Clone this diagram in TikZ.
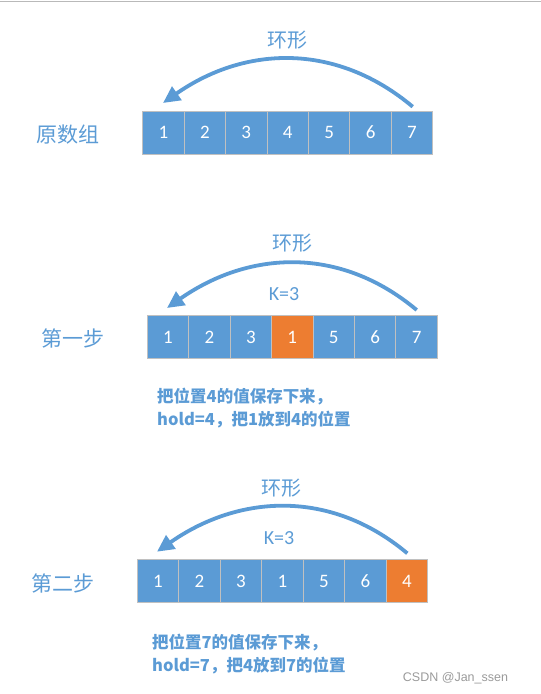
\documentclass[tikz,border=0pt]{standalone}
\usepackage{fontspec}
\setmainfont{Carlito}
\newfontfamily\cjk{Noto Sans CJK SC}
\newfontfamily\wmfont{Liberation Sans}
\usetikzlibrary{arrows.meta}
\definecolor{boxblue}{HTML}{5B9BD5}
\definecolor{boxorange}{HTML}{ED7D31}
\definecolor{txtblue}{HTML}{5B9BD5}
\definecolor{edgegray}{HTML}{C0C0C0}
\definecolor{wmgray}{HTML}{9A9A9A}
\tikzset{
  cell/.style={draw=edgegray, line width=0.9pt, fill=boxblue, text=white,
    minimum width=41.45pt, minimum height=42.5pt, inner sep=0pt, outer sep=0pt,
    font=\fontsize{19}{19}\selectfont},
  hot/.style={cell, fill=boxorange},
  ring/.style={draw=boxblue, line width=3.8pt, -{Triangle[length=17pt,width=16pt]}},
  ringlabel/.style={text=txtblue, inner sep=0pt, font=\cjk\fontsize{20}{20}\selectfont},
  klabel/.style={text=txtblue, inner sep=0pt, font=\fontsize{20}{20}\selectfont},
  rowlabel/.style={text=txtblue, inner sep=0pt, font=\cjk\fontsize{21}{21}\selectfont},
  desc/.style={text=txtblue, inner sep=0pt, align=left, anchor=west,
    font=\cjk\bfseries\fontsize{16.5}{22.5}\selectfont},
}
\begin{document}
\begin{tikzpicture}[x=1pt,y=-1pt]
\useasboundingbox (0,0) rectangle (541,694);
\draw[gray!55, line width=0.8pt] (0,1) -- (541,1);

% ---- row 1 ----
\foreach \v [count=\i] in {1,2,3,4,5,6,7}
  \node[cell, minimum height=43pt] (a\i) at ({142.7+41.43*(\i-0.5)},132.5) {\v};
\node[rowlabel] (la) at (68,135) {原数组};
\coordinate (sa) at (412.7,106.7);
\coordinate (ta) at (163,103);
\draw[ring] (sa) .. controls +(-76.7,-64.3) and +(82,-57.4) .. (ta);
\node[ringlabel] (ha) at (287,40) {环形};

% ---- row 2 ----
\foreach \v/\s [count=\i] in {1/cell,2/cell,3/cell,1/hot,5/cell,6/cell,7/cell}
  \node[\s] (b\i) at ({147.3+41.43*(\i-0.5)},337) {\v};
\node[rowlabel] (lb) at (73,338) {第一步};
\coordinate (sb) at (416.7,310);
\coordinate (tb) at (167,308);
\draw[ring] (sb) .. controls +(-76.7,-64.3) and +(82,-57.4) .. (tb);
\node[ringlabel] (hb) at (292.7,243.3) {环形};
\node[klabel] (kb) at (284,294) {K=3};
\node[desc] (db) at (157,408) {把位置4的值保存下来，\\hold=4，把1放到4的位置};

% ---- row 3 ----
\foreach \v/\s [count=\i] in {1/cell,2/cell,3/cell,1/cell,5/cell,6/cell,4/hot}
  \node[\s] (c\i) at ({137.3+41.49*(\i-0.5)},581) {\v};
\node[rowlabel] (lc) at (63,583.3) {第二步};
\coordinate (sc) at (407.3,553.3);
\coordinate (tc) at (157,551.7);
\draw[ring] (sc) .. controls +(-76.7,-64.3) and +(82,-57.4) .. (tc);
\node[ringlabel] (hc) at (281.7,488.3) {环形};
\node[klabel] (kc) at (279,538.3) {K=3};
\node[desc] (dc) at (152,654.3) {把位置7的值保存下来，\\hold=7，把4放到7的位置};

\node[text=wmgray, inner sep=0pt, font=\wmfont\fontsize{12.5}{12.5}\selectfont] (wm) at (455.5,678.3) {CSDN @Jan\_ssen};
\end{tikzpicture}
\end{document}
